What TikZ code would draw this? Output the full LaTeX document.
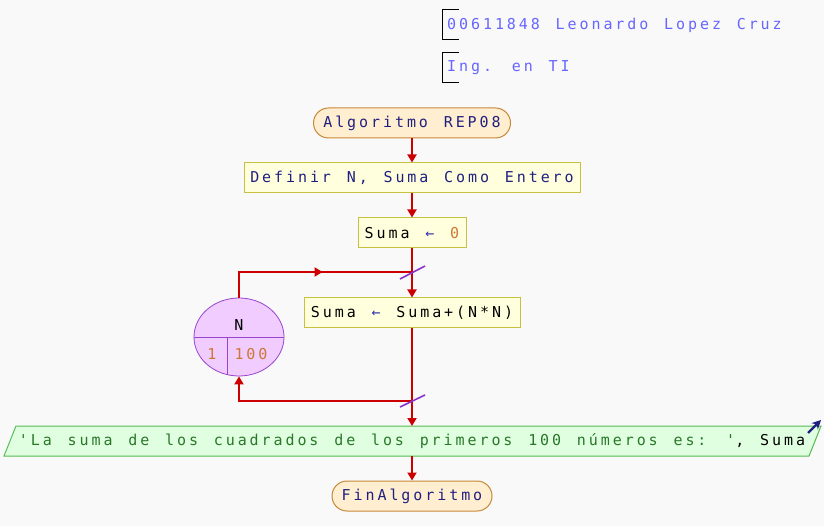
\documentclass[tikz,border=0pt]{standalone}
\usepackage{fontspec}
\usetikzlibrary{arrows.meta,decorations.markings,shapes.geometric}
\newfontfamily\pmono[LetterSpace=19.5,WordSpace=1.32]{DejaVu Sans Mono}
\definecolor{bgc}{RGB}{249,249,249}
\definecolor{termfill}{RGB}{255,238,208}
\definecolor{termdraw}{RGB}{200,136,58}
\definecolor{procfill}{RGB}{255,255,221}
\definecolor{procdraw}{RGB}{200,192,64}
\definecolor{flowred}{RGB}{204,0,0}
\definecolor{slashc}{RGB}{136,51,204}
\definecolor{loopfill}{RGB}{240,204,255}
\definecolor{loopdraw}{RGB}{153,68,204}
\definecolor{outfill}{RGB}{224,255,224}
\definecolor{outdraw}{RGB}{85,187,85}
\definecolor{kw}{RGB}{32,32,128}
\definecolor{opc}{RGB}{51,51,170}
\definecolor{numc}{RGB}{204,119,51}
\definecolor{strc}{RGB}{40,120,40}
\definecolor{hdr}{RGB}{102,102,255}
\begin{document}
\begin{tikzpicture}[x=1pt,y=-1pt,
  every node/.style={font=\pmono\fontsize{15}{18}\selectfont, inner sep=0pt},
  term/.style={draw=termdraw, fill=termfill, line width=1pt, rounded corners=15pt, minimum height=30pt},
  proc/.style={draw=procdraw, fill=procfill, line width=1pt, minimum height=30pt},
  flow/.style={draw=flowred, line width=1.8pt},
  flowarrow/.style={flow, -{Triangle[width=9pt,length=8pt]}},
  slash/.style={draw=slashc, line width=1.6pt},
  bracket/.style={draw=black, line width=1pt}]
\useasboundingbox[fill=bgc] (0,0) rectangle (824,526);
% header
\draw[bracket] (459,10) -| (442,40) -- (459,40);
\node[anchor=west, text=hdr] (h1) at (447,25) {00611848 Leonardo Lopez Cruz};
\draw[bracket] (459,53) -| (442,83) -- (459,83);
\node[anchor=west, text=hdr] (h2) at (447,68) {Ing. en TI};
% nodes
\node[term, minimum width=197pt] (start) at (412,123) {\textcolor{kw}{Algoritmo REP08}};
\node[proc, minimum width=336pt] (def) at (412,178) {\textcolor{kw}{Definir N, Suma Como Entero}};
\node[proc, minimum width=108pt] (init) at (412,233) {Suma \textcolor{opc}{←} \textcolor{numc}{0}};
\node[proc, minimum width=216pt] (body) at (412,313) {Suma \textcolor{opc}{←} Suma+(N*N)};
\node[ellipse, draw=loopdraw, fill=loopfill, line width=0.8pt, minimum width=90pt, minimum height=78pt] (loop) at (239,337) {};
\draw[draw=loopdraw, line width=0.8pt] (loop.west) -- (loop.east);
\draw[draw=loopdraw, line width=0.8pt] (227,337) -- (227,374.5);
\node (lv) at (239,325) {N};
\node[text=numc] (lo) at (212,354) {1};
\node[text=numc] (hi) at (251,354) {100};
\fill[outfill] (16,426) -- (821,426) -- (809,456) -- (4,456) -- cycle;
\draw[outdraw, line width=1pt] (16,426) -- (821,426) -- (809,456) -- (4,456) -- cycle;
\node (out) at (412,441) {\textcolor{strc}{'La suma de los cuadrados de los primeros 100 números es: '}, Suma};
\node[term, minimum width=160pt] (fin) at (412,496) {\textcolor{kw}{FinAlgoritmo}};
\coordinate (j1) at (412,272);
\coordinate (j2) at (412,401);
\coordinate (oa) at (808,433);
\coordinate (ob) at (821,420);
% connectors
\draw[flowarrow] (start.south) -- (def.north);
\draw[flowarrow] (def.south) -- (init.north);
\draw[flowarrow] (init.south) -- (j1) -- (body.north);
\draw[flowarrow] (body.south) -- (j2) -- (out.north |- 0,426);
\draw[flowarrow] (j2) -| (loop.south);
\draw[flow, postaction={decorate}, decoration={markings, mark=at position 0.55 with {\arrow{Triangle[width=9pt,length=8pt]}}}] (loop.north) |- (j1);
\draw[flowarrow] (out.south |- 0,456) -- (fin.north);
\draw[slash] (400,279) -- (425,266);
\draw[slash] (400,407) -- (425,395);
\draw[draw=kw, line width=2.2pt, -{Stealth[length=9pt,width=9pt]}] (oa) -- (ob);
\end{tikzpicture}
\end{document}
